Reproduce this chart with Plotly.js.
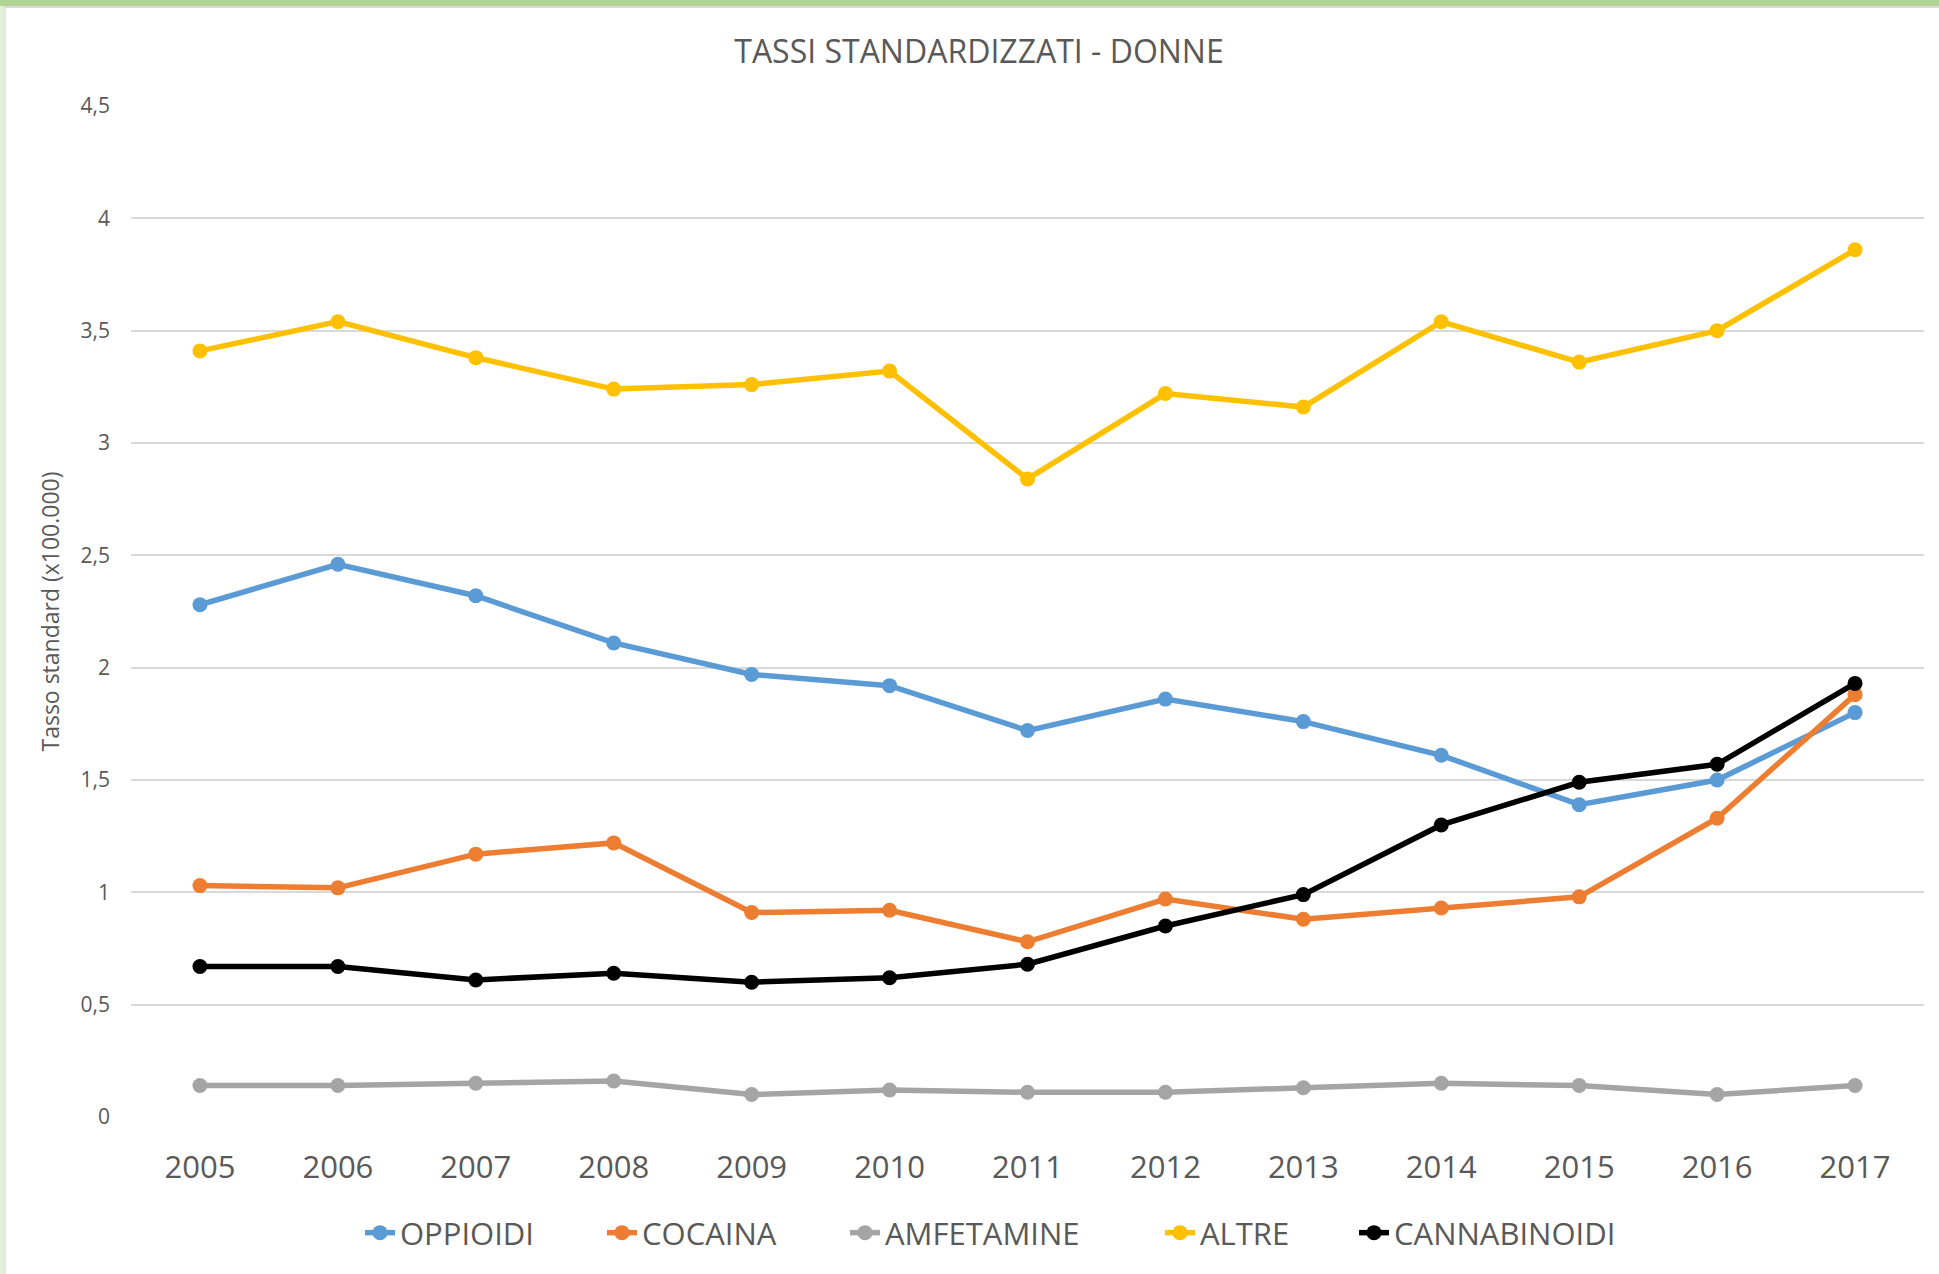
<!DOCTYPE html>
<html>
<head>
<meta charset="utf-8">
<script src="https://cdn.plot.ly/plotly-3.0.1.min.js"></script>
<style>
  html, body { margin: 0; padding: 0; background: #fff; }
  #frame { position: absolute; left: 0; top: 0; width: 1939px; height: 1274px; overflow: hidden; }
  #topbar { position: absolute; left: 0; top: 0; width: 1939px; height: 6px; background: #AED493; }
  #topline { position: absolute; left: 0; top: 6px; width: 1939px; height: 2px; background: #DADADA; }
  #leftbar { position: absolute; left: 0; top: 6px; width: 4px; height: 1268px; background: #E3F0DA; }
  #leftline { position: absolute; left: 4px; top: 8px; width: 2px; height: 1266px; background: #E6E6E6; }
  #chart { position: absolute; left: 0; top: 0; width: 1939px; height: 1274px; }
</style>
</head>
<body>
<div id="frame">
  <div id="chart"></div>
  <div id="topbar"></div>
  <div id="topline"></div>
  <div id="leftbar"></div>
  <div id="leftline"></div>
</div>
<script>
const years = ['2005','2006','2007','2008','2009','2010','2011','2012','2013','2014','2015','2016','2017'];
const oppioidi    = [2.28, 2.46, 2.32, 2.11, 1.97, 1.92, 1.72, 1.86, 1.76, 1.61, 1.39, 1.50, 1.80];
const cocaina     = [1.03, 1.02, 1.17, 1.22, 0.91, 0.92, 0.78, 0.97, 0.88, 0.93, 0.98, 1.33, 1.88];
const amfetamine  = [0.14, 0.14, 0.15, 0.16, 0.10, 0.12, 0.11, 0.11, 0.13, 0.15, 0.14, 0.10, 0.14];
const altre       = [3.41, 3.54, 3.38, 3.24, 3.26, 3.32, 2.84, 3.22, 3.16, 3.54, 3.36, 3.50, 3.86];
const cannabinoidi= [0.67, 0.67, 0.61, 0.64, 0.60, 0.62, 0.68, 0.85, 0.99, 1.30, 1.49, 1.57, 1.93];

const seriesNames = ['OPPIOIDI','COCAINA','AMFETAMINE','ALTRE','CANNABINOIDI'];
const seriesData = [oppioidi, cocaina, amfetamine, altre, cannabinoidi];
const colors = ['#5B9BD5','#ED7D31','#A5A5A5','#FFC000','#000000'];

const FONT = 'Open Sans, Noto Sans, sans-serif';
const legendIds = ['legend','legend2','legend3','legend4','legend5'];
const legendLeft = [360, 602, 845, 1160, 1354];

const traces = seriesNames.map((n, i) => ({
  type: 'scatter',
  mode: 'lines+markers',
  name: n,
  legend: legendIds[i],
  x: years,
  y: seriesData[i],
  line: { color: colors[i], width: 5.5 },
  marker: { color: colors[i], size: 15 },
  cliponaxis: false
}));

const layout = {
  width: 1939,
  height: 1274,
  margin: { l: 131, r: 15, t: 106, b: 157 },
  paper_bgcolor: '#ffffff',
  plot_bgcolor: '#ffffff',
  separators: ',.',
  font: { family: FONT, color: '#595959' },
  title: {
    text: 'TASSI STANDARDIZZATI - DONNE',
    font: { family: FONT, size: 32, color: '#595959' },
    x: 979/1939, xref: 'container', xanchor: 'center',
    y: 1 - 52/1274, yref: 'container', yanchor: 'middle'
  },
  xaxis: {
    type: 'category',
    range: [-0.5, 12.5],
    showgrid: false,
    zeroline: false,
    showline: false,
    ticks: '',
    tickfont: { family: FONT, size: 31, color: '#595959' },
    ticklabelstandoff: 29
  },
  yaxis: {
    range: [0, 4.5],
    dtick: 0.5,
    tick0: 0,
    showgrid: true,
    gridcolor: '#D9D9D9',
    gridwidth: 2,
    zeroline: false,
    showline: false,
    ticks: '',
    tickfont: { family: FONT, size: 21, color: '#595959' },
    ticklabelstandoff: 20,
    title: {
      text: 'Tasso standard (x100.000)',
      font: { family: FONT, size: 23, color: '#595959' },
      standoff: 14
    }
  },
  showlegend: true
};

legendIds.forEach((id, i) => {
  layout[id] = {
    orientation: 'h',
    xref: 'container', yref: 'container',
    x: legendLeft[i] / 1939, xanchor: 'left',
    y: 1 - 1233/1274, yanchor: 'middle',
    font: { family: FONT, size: 31, color: '#595959' },
    itemwidth: 30,
    bgcolor: 'rgba(0,0,0,0)'
  };
});

Plotly.newPlot('chart', traces, layout, { displayModeBar: false, staticPlot: true });
</script>
</body>
</html>
